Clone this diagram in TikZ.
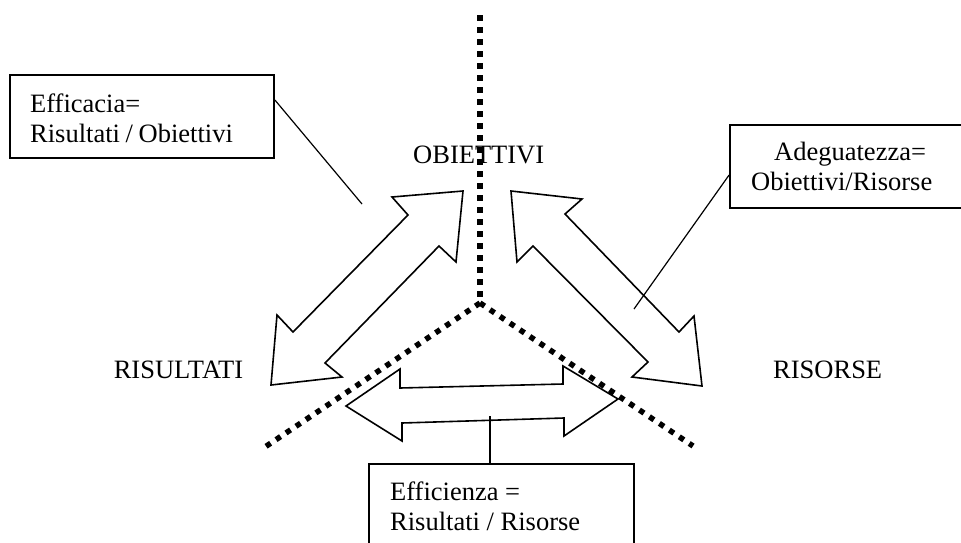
\documentclass[tikz,border=0pt]{standalone}
\usepackage{fontspec}
\setmainfont{Liberation Serif}
\begin{document}
\begin{tikzpicture}[x=1pt,y=-1pt,
  lbl/.style={anchor=base west, inner sep=0pt, font=\fontsize{26.5}{30}\selectfont},
  boxnode/.style={draw, line width=1.8pt, inner sep=0pt, rectangle},
  conn/.style={line width=1.2pt},
  dblarrow/.style={draw, line width=1.6pt, line join=miter},
  sepline/.style={line width=5.5pt, dash pattern=on 5.5pt off 6.5pt}]
\clip (0,0) rectangle (961,542);
\fill[white] (0,0) rectangle (961,542);

% boxes
\node[boxnode, minimum width=264pt, minimum height=83pt] (eff) at (142,116.5) {};
\node[boxnode, minimum width=240pt, minimum height=83pt] (ada) at (850,166.5) {};
\node[boxnode, minimum width=265pt, minimum height=96pt] (effi) at (501.5,512) {};

% box texts
\node[lbl] (eff1) at (30,112) {Efficacia=};
\node[lbl] (eff2) at (30,142) {Risultati\kern-1pt\ /\ \kern-1pt Obiettivi};
\node[lbl] (ada1) at (774,160) {Adeguatezza=};
\node[lbl] (ada2) at (751,190) {Obiettivi/Risorse};
\node[lbl] (effi1) at (390,500) {Efficienza =};
\node[lbl] (effi2) at (390,530) {Risultati / Risorse};

% corner labels
\node[lbl] (obi) at (413,163) {OBIETTIVI};
\node[lbl, anchor=base] (ris) at (178.5,378) {RISULTATI};
\node[lbl] (rso) at (773,378) {RISORSE};

% double arrows
\draw[dblarrow] (463,191) -- (392,197) -- (408,215) -- (293,332) -- (277,315)
  -- (271,385) -- (342,377) -- (325,363) -- (439,246) -- (456,262) -- cycle;
\draw[dblarrow] (511,191) -- (582,199) -- (565,214) -- (679,332) -- (694,316)
  -- (702,386) -- (632,377) -- (648,362) -- (533,246) -- (517,262) -- cycle;
\draw[dblarrow] (346,406) -- (400,369) -- (400,388) -- (563,384) -- (563,366)
  -- (618,399) -- (564,436) -- (564,418) -- (402,423) -- (402,441) -- cycle;

% connectors
\coordinate (effend) at (362,204);
\coordinate (adaend) at (634,309);
\coordinate (effiend) at (490,416);
\draw[conn] ([yshift=16.5pt]eff.east) -- (effend);
\draw[conn] ([yshift=-8.5pt]ada.west) -- (adaend);
\draw[conn] ([xshift=-11.5pt]effi.north) -- (effiend);

% dotted separators
\coordinate (J) at (480,303);
\coordinate (T) at (480,15);
\coordinate (L) at (265,447);
\coordinate (R) at (693,446);
\draw[sepline] (T) -- (J);
\draw[sepline] (J) -- (L);
\draw[sepline] (J) -- (R);
\end{tikzpicture}
\end{document}
